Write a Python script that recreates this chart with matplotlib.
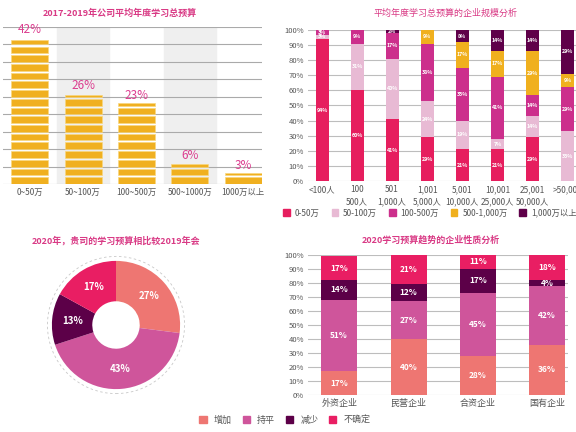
import matplotlib.pyplot as plt
from matplotlib.patches import Patch, Circle
import numpy as np

plt.rcParams['font.family'] = ['Noto Sans CJK SC', 'DejaVu Sans']

# ---- data ----
# top left: average total budget 2017-2019
total_cats = ['0~50万', '50~100万', '100~500万', '500~1000万', '1000万以上']
total_vals = [42, 26, 23, 6, 3]

# top right: budget by company size
size_cats = ['<100人', '100\n500人', '501\n1,000人', '1,001\n5,000人',
             '5,001\n10,000人', '10,001\n25,000人', '25,001\n50,000人', '>50,000']
size_series = ['0-50万', '50-100万', '100-500万', '500-1,000万', '1,000万以上']
size_0_50 = [94, 60, 41, 29, 21, 21, 29, 0]
size_50_100 = [3, 31, 40, 24, 19, 7, 14, 33]
size_100_500 = [3, 9, 17, 38, 35, 41, 14, 29]
size_500_1000 = [0, 0, 0, 9, 17, 17, 29, 9]
size_1000_up = [0, 0, 2, 0, 8, 14, 14, 29]

# bottom left: 2020 budget vs 2019
trend_labels = ['增加', '持平', '减少', '不确定']
trend_vals = [27, 43, 13, 17]

# bottom right: trend by company type
nature_cats = ['外资企业', '民营企业', '合资企业', '国有企业']
nature_up = [17, 40, 28, 36]
nature_flat = [51, 27, 45, 42]
nature_down = [14, 12, 17, 4]
nature_unsure = [17, 21, 11, 18]

# colours
title_col = '#D93A85'
size_colors = ['#E61E5E', '#E8BAD4', '#CC2F8C', '#F0B01E', '#5F0049']
trend_colors = ['#EE7672', '#CF559B', '#5C0048', '#E91E63']
grid_col = '#BDBDBD'
tick_col = '#555555'

fig = plt.figure(figsize=(5.76, 4.32), dpi=100)

# ---------- top left ----------
ax1 = fig.add_axes([3 / 576, 1 - 184 / 432, 259 / 576, 157 / 432])
x1 = np.arange(len(total_cats))
for k in [1, 3]:
    ax1.axvspan(k - 0.48, k + 0.48, color='#EFEFEF', zorder=0)
for yv in np.arange(0, 46, 5):
    ax1.axhline(yv, color='#AAAAAA', lw=0.8, zorder=1)
step = 2.5
gap = 0.6
for i, v in enumerate(total_vals):
    b = 0.0
    while b < v - 0.2:
        h = min(step, v - b) - gap
        ax1.bar(x1[i], max(h, 0.6), width=0.69, bottom=b, color='#F0B020',
                edgecolor='#F9D77E', linewidth=0.5, zorder=2)
        b += step
    ax1.text(x1[i], v + 0.4, f'{v}%', ha='center', va='bottom', fontsize=8.5,
             color='#DC3D8F', zorder=3)
ax1.set_xlim(-0.5, 4.35)
ax1.set_ylim(0, 45)
ax1.set_xticks(x1)
ax1.set_xticklabels(total_cats, fontsize=6, color=tick_col)
ax1.set_yticks([])
ax1.tick_params(axis='x', length=0, pad=3)
for s in ax1.spines.values():
    s.set_visible(False)
fig.text(120 / 576, 1 - 13 / 432, '2017-2019年公司平均年度学习总预算', ha='center', va='center',
         fontsize=6.5, fontweight='bold', color=title_col)

# ---------- top right ----------
ax2 = fig.add_axes([308 / 576, 1 - 181 / 432, 277 / 576, 151 / 432])
x2 = np.arange(len(size_cats))
ax2.set_axisbelow(True)
ax2.yaxis.grid(True, color=grid_col, lw=0.8)
bottom = np.zeros(len(size_cats))
for name, vals, col in zip(size_series,
                           [size_0_50, size_50_100, size_100_500, size_500_1000, size_1000_up],
                           size_colors):
    vals = np.array(vals, dtype=float)
    ax2.bar(x2, vals, width=0.37, bottom=bottom, color=col, label=name)
    for i, v in enumerate(vals):
        if v > 0:
            ax2.text(x2[i], bottom[i] + v / 2, f'{int(v)}%', ha='center', va='center',
                     fontsize=3.8, color='white', fontweight='bold')
    bottom += vals
ax2.set_xlim(-0.4, 7.5)
ax2.set_ylim(0, 100)
ax2.set_yticks(np.arange(0, 101, 10))
ax2.set_yticklabels([f'{t}%' for t in range(0, 101, 10)], fontsize=5.5, color=tick_col)
ax2.set_xticks(x2)
ax2.set_xticklabels(size_cats, fontsize=6, color=tick_col, linespacing=1.5)
ax2.tick_params(length=0, pad=3)
for s in ax2.spines.values():
    s.set_visible(False)
fig.text(445 / 576, 1 - 13 / 432, '平均年度学习总预算的企业规模分析', ha='center', va='center',
         fontsize=6.5, color=title_col)
fig.legend(handles=[Patch(color=c, label=n) for c, n in zip(size_colors, size_series)],
           loc='center', bbox_to_anchor=(430 / 576, 1 - 213 / 432), ncol=5, frameon=False,
           fontsize=6, handlelength=0.8, handleheight=0.8, handletextpad=0.6,
           columnspacing=1.4, labelcolor=tick_col)

# ---------- bottom left (donut) ----------
ax3 = fig.add_axes([(116 - 75) / 576, (432 - 325 - 75) / 432, 150 / 576, 150 / 432])
wedges, texts, autotexts = ax3.pie(trend_vals, colors=trend_colors, startangle=90,
                                   counterclock=False, radius=1.0,
                                   wedgeprops=dict(width=0.63, linewidth=0),
                                   autopct='%d%%', pctdistance=0.685,
                                   textprops=dict(color='white', fontsize=7, fontweight='bold'))
ax3.add_patch(Circle((0, 0), 1.07, fill=False, ls=(0, (3, 3)), lw=0.6, color='#C8C8C8', zorder=0))
ax3.set_xlim(-1.17, 1.17)
ax3.set_ylim(-1.17, 1.17)
ax3.set_aspect('equal')
ax3.axis('off')
fig.text(116 / 576, 1 - 241 / 432, '2020年，贵司的学习预算相比较2019年会', ha='center', va='center',
         fontsize=6.5, fontweight='bold', color=title_col)

# ---------- bottom right ----------
ax4 = fig.add_axes([308 / 576, 1 - 395 / 432, 260 / 576, 140 / 432])
x4 = np.arange(len(nature_cats))
ax4.set_axisbelow(True)
ax4.yaxis.grid(True, color=grid_col, lw=0.8)
bottom = np.zeros(len(nature_cats))
for name, vals, col in zip(trend_labels, [nature_up, nature_flat, nature_down, nature_unsure],
                           trend_colors):
    vals = np.array(vals, dtype=float)
    ax4.bar(x4, vals, width=0.52, bottom=bottom, color=col)
    for i, v in enumerate(vals):
        ax4.text(x4[i], bottom[i] + v / 2, f'{int(v)}%', ha='center', va='center',
                 fontsize=6, color='white', fontweight='bold')
    bottom += vals
ax4.set_xlim(-0.45, 3.3)
ax4.set_ylim(0, 100)
ax4.set_yticks(np.arange(0, 101, 10))
ax4.set_yticklabels([f'{t}%' for t in range(0, 101, 10)], fontsize=5.5, color=tick_col)
ax4.set_xticks(x4)
ax4.set_xticklabels(nature_cats, fontsize=6.5, color=tick_col)
ax4.tick_params(length=0, pad=3)
for s in ax4.spines.values():
    s.set_visible(False)
fig.text(431 / 576, 1 - 240 / 432, '2020学习预算趋势的企业性质分析', ha='center', va='center',
         fontsize=6.5, fontweight='bold', color=title_col)

fig.legend(handles=[Patch(color=c, label=n) for c, n in zip(trend_colors, trend_labels)],
           loc='center', bbox_to_anchor=(285 / 576, 1 - 420 / 432), ncol=4, frameon=False,
           fontsize=6.5, handlelength=0.8, handleheight=0.8, handletextpad=0.8,
           columnspacing=1.2, labelcolor=tick_col)

fig.savefig('out.png', dpi=100)
